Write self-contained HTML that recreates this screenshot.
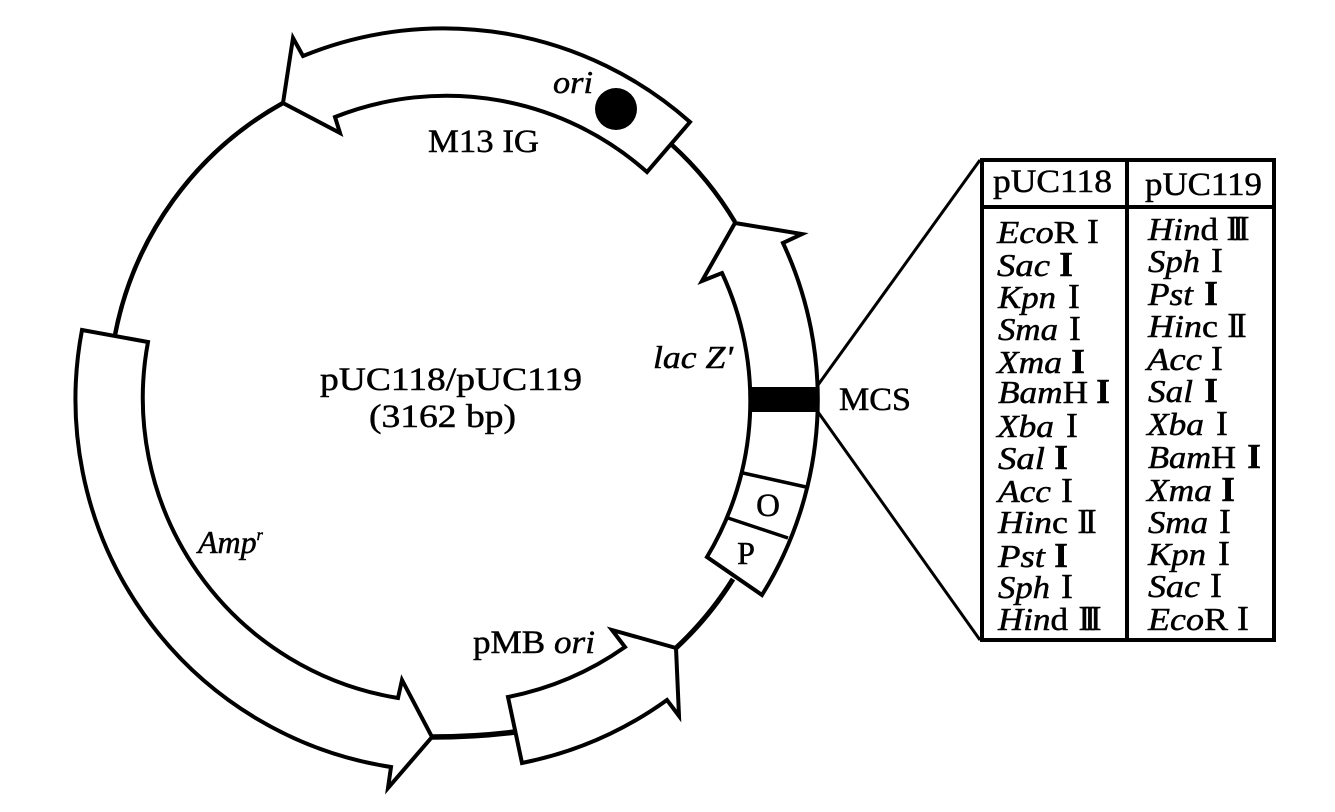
<!DOCTYPE html>
<html><head><meta charset="utf-8"><style>
html,body{margin:0;padding:0;background:#fff;width:1335px;height:812px;overflow:hidden}
svg{display:block}
text{font-family:"Liberation Serif",serif;font-size:33px;fill:#000;stroke:#000;stroke-width:.5}
.i{font-style:italic;font-weight:bold;font-size:32px}
.n{font-size:35px;text-anchor:middle}
.b{font-weight:bold}
.s{font-style:italic;font-size:32px}
</style></head><body>
<svg width="1335" height="812" viewBox="0 0 1335 812" xmlns="http://www.w3.org/2000/svg">
<g fill="none" stroke="#000" stroke-width="4" stroke-linejoin="miter">
<path d="M115 335A338 338 0 0 1 283 103" stroke-width="4.5"/>
<path d="M672 145A338 338 0 0 1 735 222" stroke-width="4.5"/>
<path d="M733 579A338 338 0 0 1 676 648" stroke-width="5"/>
<path d="M432 737Q475 737 515 732" stroke-width="5.5"/>
<path fill="#fff" d="M283 103L293 38L303 56A371 371 0 0 1 690 122L647 172A302 302 0 0 0 335 117L340 133Z"/>
<path fill="#fff" d="M735 223L802 234L783 243A370 370 0 0 1 762 595L707 557A303 303 0 0 0 722 273L702 281Z"/>
<path fill="#fff" d="M676 648L612 630L625 647A306 306 0 0 1 508 697L522 763A373 373 0 0 0 667 700L679 716Z"/>
<path fill="#fff" d="M82 330L148 342A304 304 0 0 0 398 698L402 680L432 737L388 788L391 767A372 372 0 0 1 82 330Z"/>
<path d="M743 473L806 487M728 518L788 538" stroke-width="3.5"/>
</g>
<rect x="750" y="387" width="68" height="25" fill="#000"/>
<circle cx="616" cy="109" r="21" fill="#000"/>
<g stroke="#000" stroke-width="3" fill="none">
<path d="M818 385L980 160M818 412L980 640"/>
</g>
<g stroke="#000" stroke-width="4" fill="none">
<rect x="982" y="160" width="292" height="480"/>
<path d="M982 207H1274M1127 160V640"/>
</g>

<text class="s" x="553" y="93" textLength="40" lengthAdjust="spacingAndGlyphs">ori</text>
<text x="428" y="152" textLength="111" lengthAdjust="spacingAndGlyphs">M13 IG</text>
<text class="s" x="653" y="368" textLength="80" lengthAdjust="spacingAndGlyphs">lac Z'</text>
<text x="839" y="410" textLength="72" lengthAdjust="spacingAndGlyphs">MCS</text>
<text x="768" y="516" text-anchor="middle">O</text>
<text x="746" y="564" text-anchor="middle" style="font-size:32px">P</text>
<text x="320" y="390" textLength="262" lengthAdjust="spacingAndGlyphs">pUC118/pUC119</text>
<text x="369" y="427" textLength="147" lengthAdjust="spacingAndGlyphs">(3162 bp)</text>
<text class="s" x="198" y="553">Amp<tspan font-size="16" dy="-13">r</tspan></text>
<text x="473" y="653" textLength="122" lengthAdjust="spacingAndGlyphs">pMB <tspan font-style="italic">ori</tspan></text>

<text x="993" y="192" textLength="119" lengthAdjust="spacingAndGlyphs">pUC118</text>
<text x="1145" y="195" textLength="117" lengthAdjust="spacingAndGlyphs">pUC119</text>

<g>
<text class="s" x="997" y="243" textLength="81" lengthAdjust="spacingAndGlyphs">Eco<tspan font-style="normal">R</tspan></text><text class="n" x="1093" y="243">I</text>
<text class="s" x="997" y="276" textLength="53" lengthAdjust="spacingAndGlyphs">Sac</text><text class="n b" x="1066" y="276">I</text>
<text class="s" x="998" y="308" textLength="58" lengthAdjust="spacingAndGlyphs">Kpn</text><text class="n" x="1074" y="308">I</text>
<text class="s" x="998" y="340" textLength="60" lengthAdjust="spacingAndGlyphs">Sma</text><text class="n" x="1075" y="340">I</text>
<text class="s" x="997" y="373" textLength="65" lengthAdjust="spacingAndGlyphs">Xma</text><text class="n b" x="1078" y="373">I</text>
<text class="s" x="998" y="403" textLength="90" lengthAdjust="spacingAndGlyphs">Bam<tspan font-style="normal">H</tspan></text><text class="n b" x="1103" y="403">I</text>
<text class="s" x="997" y="437" textLength="57" lengthAdjust="spacingAndGlyphs">Xba</text><text class="n" x="1072" y="437">I</text>
<text class="s" x="998" y="469" textLength="47" lengthAdjust="spacingAndGlyphs">Sal</text><text class="n b" x="1061" y="469">I</text>
<text class="s" x="998" y="502" textLength="53" lengthAdjust="spacingAndGlyphs">Acc</text><text class="n" x="1067" y="502">I</text>
<text class="s" x="998" y="533" textLength="70" lengthAdjust="spacingAndGlyphs">Hin<tspan font-style="normal">c</tspan></text><text class="n" x="1085" y="533" letter-spacing="-4">II</text>
<text class="s" x="998" y="567" textLength="47" lengthAdjust="spacingAndGlyphs">Pst</text><text class="n b" x="1061" y="567">I</text>
<text class="s" x="998" y="598" textLength="52" lengthAdjust="spacingAndGlyphs">Sph</text><text class="n" x="1067" y="598">I</text>
<text class="s" x="998" y="630" textLength="70" lengthAdjust="spacingAndGlyphs">Hin<tspan font-style="normal">d</tspan></text><text class="n" x="1087" y="630" letter-spacing="-6">III</text>

<text class="s" x="1148" y="240" textLength="70" lengthAdjust="spacingAndGlyphs">Hin<tspan font-style="normal">d</tspan></text><text class="n" x="1235" y="240" letter-spacing="-6">III</text>
<text class="s" x="1148" y="272" textLength="52" lengthAdjust="spacingAndGlyphs">Sph</text><text class="n" x="1217" y="272">I</text>
<text class="s" x="1148" y="305" textLength="45" lengthAdjust="spacingAndGlyphs">Pst</text><text class="n b" x="1211" y="305">I</text>
<text class="s" x="1148" y="337" textLength="70" lengthAdjust="spacingAndGlyphs">Hin<tspan font-style="normal">c</tspan></text><text class="n" x="1235" y="337" letter-spacing="-4">II</text>
<text class="s" x="1147" y="370" textLength="55" lengthAdjust="spacingAndGlyphs">Acc</text><text class="n" x="1217" y="370">I</text>
<text class="s" x="1148" y="402" textLength="45" lengthAdjust="spacingAndGlyphs">Sal</text><text class="n b" x="1211" y="402">I</text>
<text class="s" x="1147" y="435" textLength="57" lengthAdjust="spacingAndGlyphs">Xba</text><text class="n" x="1222" y="435">I</text>
<text class="s" x="1148" y="468" textLength="88" lengthAdjust="spacingAndGlyphs">Bam<tspan font-style="normal">H</tspan></text><text class="n b" x="1254" y="468">I</text>
<text class="s" x="1147" y="501" textLength="65" lengthAdjust="spacingAndGlyphs">Xma</text><text class="n b" x="1228" y="501">I</text>
<text class="s" x="1148" y="533" textLength="60" lengthAdjust="spacingAndGlyphs">Sma</text><text class="n" x="1225" y="533">I</text>
<text class="s" x="1148" y="565" textLength="58" lengthAdjust="spacingAndGlyphs">Kpn</text><text class="n" x="1224" y="565">I</text>
<text class="s" x="1148" y="597" textLength="52" lengthAdjust="spacingAndGlyphs">Sac</text><text class="n" x="1216" y="597">I</text>
<text class="s" x="1148" y="630" textLength="80" lengthAdjust="spacingAndGlyphs">Eco<tspan font-style="normal">R</tspan></text><text class="n" x="1243" y="630">I</text>
</g>
</svg>
</body></html>
